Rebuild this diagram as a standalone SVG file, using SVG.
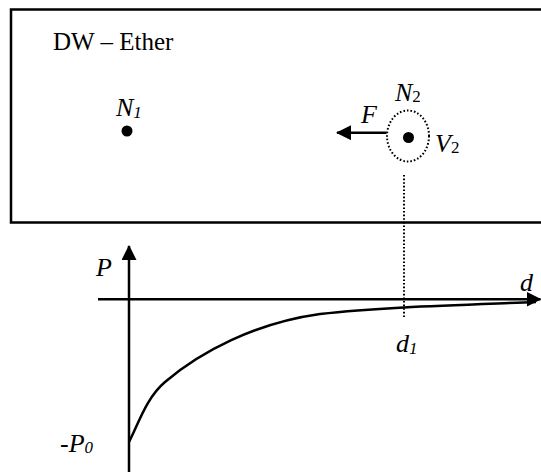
<svg xmlns="http://www.w3.org/2000/svg" width="541" height="472" viewBox="0 0 541 472">
<style>
text{font-family:"Liberation Serif","Times New Roman",serif;fill:#000}
.lbl{font-size:26px;font-style:italic}
.sub{font-size:17px}
.line{stroke:#000;stroke-width:2.5;fill:none}
.dot{stroke:#000;stroke-width:2;fill:none;stroke-dasharray:1.6 2}
</style>
<defs>
<marker id="ah" viewBox="0 0 15 15" refX="14" refY="7.5" markerWidth="15" markerHeight="15" markerUnits="userSpaceOnUse" orient="auto">
<path d="M0,0 L15,7.5 L0,15 Z" fill="#000"/>
</marker>
</defs>
<g id="ether">
<rect x="11" y="9.5" width="560" height="213" class="line"/>
<text x="53" y="50" font-size="25">DW – Ether</text>
</g>
<g id="N1">
<circle cx="127" cy="131" r="5.5" fill="#000"/>
<text x="116" y="116" class="lbl">N<tspan class="sub" dy="2">1</tspan></text>
</g>
<g id="N2">
<ellipse cx="408" cy="136" rx="21" ry="25.5" class="dot"/>
<circle cx="408.5" cy="137.5" r="5.5" fill="#000"/>
<text x="395" y="101" class="lbl">N<tspan class="sub" font-style="normal" dy="1">2</tspan></text>
<text x="435" y="152" class="lbl">V<tspan class="sub" font-style="normal" dy="1">2</tspan></text>
</g>
<g id="graph">
<text x="96" y="276" class="lbl">P</text>
<text x="520" y="291" class="lbl">d</text>
<text x="396" y="352" class="lbl">d<tspan class="sub" dy="2">1</tspan></text>
<text x="60" y="452" class="lbl">-P<tspan class="sub" dy="1">0</tspan></text>
<path d="M129,442 C138,425 146,398 165,382 C200,352 255,323 320,314 C380,307 460,305 536,302" class="line" stroke-width="2"/>
</g>
<g id="connectors">
<line x1="386.5" y1="132.7" x2="337" y2="132.7" class="line" marker-end="url(#ah)"/>
<text x="361" y="123" class="lbl">F</text>
<line x1="404" y1="175" x2="404" y2="318" class="dot" stroke-width="1.5"/>
<line x1="98" y1="299.3" x2="540.5" y2="299.3" class="line" marker-end="url(#ah)"/>
<line x1="129" y1="472" x2="129" y2="246" class="line" marker-end="url(#ah)"/>
</g>
</svg>
